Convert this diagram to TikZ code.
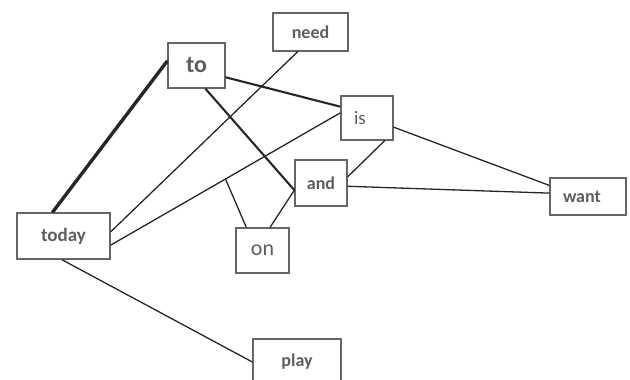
\documentclass[tikz,border=0pt]{standalone}
\usepackage{fontspec}
\setmainfont{Carlito}
\usetikzlibrary{positioning}
\definecolor{wordgray}{HTML}{5E5E5E}
\definecolor{boxgray}{HTML}{666666}
\definecolor{linkgray}{HTML}{262626}

\begin{document}
\begin{tikzpicture}[x=1pt, y=-1pt,
    word/.style={draw=boxgray, line width=1.3pt, text=wordgray, inner sep=0pt,
      font=\fontsize{18}{20}\selectfont\bfseries},
    plain/.style={word, font=\fontsize{19}{21}\selectfont},
    padleft/.style={align=left, inner xsep=13pt, text width=#1},
    link/.style={draw=linkgray, line width=1.3pt},
    strong/.style={link, line width=2.1pt}]
    \useasboundingbox (0,0) rectangle (630,380);

    % words
    \node[word, minimum width=57pt, minimum height=45pt, font=\fontsize{24}{26}\selectfont\bfseries] (wto) at (196.5,65.5) {to};
    \node[word, minimum width=75pt, minimum height=38pt] (wneed) at (310.5,32) {need};
    \node[plain, padleft=26pt, minimum height=44pt] (wis) at (367,118) {is};
    \node[word, minimum width=52pt, minimum height=46pt] (wand) at (321,183) {and};
    \node[word, padleft=50pt, minimum height=37pt] (wwant) at (588,196.5) {want};
    \node[word, minimum width=93pt, minimum height=46pt, font=\fontsize{19}{21}\selectfont\bfseries] (wtoday) at (63.5,236) {today};
    \node[plain, minimum width=53pt, minimum height=45pt, font=\fontsize{22}{24}\selectfont] (won) at (262.5,250.5) {on};
    \node[word, minimum width=88pt, minimum height=46pt] (wplay) at (297,362) {play};

    % links
    \draw[link, line width=3.4pt] (wtoday.115) -- (wto.171);
    \draw[strong] (wto.-22) -- (wis.157);
    \draw[strong] (wto.-69) -- (wand.195);
    \draw[link] (wtoday.5) -- (wneed.237);
    \draw[link] (wtoday.349) -- coordinate[pos=0.5] (mid) (wis.169);
    \draw[link] (wtoday.266) -- (wplay.west);
    \draw[link] (wis.-52) -- (wand.13);
    \draw[link] (wis.-19) -- (wwant.164);
    \draw[link] (wand.-7) -- (wwant.175);
    \draw[link] (won.125) -- (mid);
    \draw[link] (won.72) -- (wand.195);
\end{tikzpicture}
\end{document}
